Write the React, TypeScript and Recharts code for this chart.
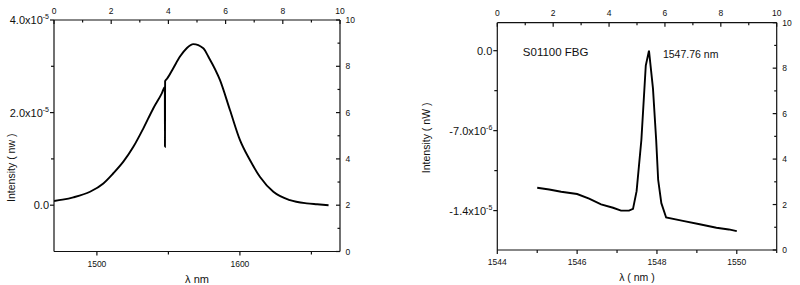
import { LineChart, Line, XAxis, YAxis, ReferenceDot } from 'recharts';

// broadband source spectrum (left panel)
const sourceWavelength = [
  1470, 1476, 1483.5, 1495.2, 1504.5, 1511.5, 1518.5, 1525.5, 1532.5, 1539.4, 1545.3, 1547.5, 1547.6,
  1547.7, 1549, 1553.4, 1558.1, 1562.8, 1567.4, 1574.4, 1577.9, 1586.1, 1593.1, 1600, 1607.1, 1614.1,
  1623.4, 1635, 1646.7, 1654, 1662,
];
const sourceIntensity = [
  0.09e-5, 0.12e-5, 0.17e-5, 0.29e-5, 0.47e-5, 0.69e-5, 0.94e-5, 1.26e-5, 1.66e-5, 2.09e-5, 2.41e-5,
  2.55e-5, 1.26e-5, 2.68e-5, 2.73e-5, 2.96e-5, 3.21e-5, 3.39e-5, 3.48e-5, 3.39e-5, 3.21e-5, 2.7e-5,
  2.05e-5, 1.41e-5, 0.97e-5, 0.61e-5, 0.29e-5, 0.11e-5, 0.04e-5, 0.02e-5, 0,
];

// FBG reflection peak (right panel)
const fbgWavelength = [
  1545.0, 1545.3, 1545.6, 1546.0, 1546.3, 1546.6, 1546.9, 1547.1, 1547.3, 1547.4, 1547.49, 1547.61,
  1547.72, 1547.8, 1547.9, 1547.98, 1548.03, 1548.11, 1548.23, 1548.65, 1549.07, 1549.49, 1549.8,
  1550.0,
];
const fbgIntensity = [
  -12.0e-6, -12.15e-6, -12.35e-6, -12.55e-6, -12.95e-6, -13.45e-6, -13.75e-6, -14.0e-6, -14.0e-6,
  -13.85e-6, -12.3e-6, -7.8e-6, -1.3e-6, 0, -3.3e-6, -7.8e-6, -11.3e-6, -13.35e-6, -14.6e-6,
  -14.9e-6, -15.2e-6, -15.5e-6, -15.65e-6, -15.8e-6,
];

// axis ticks
const sourceXTicks = [1500, 1550, 1600, 1650];
const sourceXLabeled = [1500, 1600];
const sourceYTicks = [0, 1e-5, 2e-5, 3e-5, 4e-5];
const sourceYLabeled = [0, 2e-5, 4e-5];
const fbgXTicks = [1544, 1545, 1546, 1547, 1548, 1549, 1550, 1551];
const fbgXLabeled = [1544, 1546, 1548, 1550];
const fbgYTicks = [-1.4e-5, -1.05e-5, -7e-6, -3.5e-6, 0];
const fbgYLabeled = [-1.4e-5, -7e-6, 0];
const auxTicks = [0, 1, 2, 3, 4, 5, 6, 7, 8, 9, 10];
const auxLabeled = [0, 2, 4, 6, 8, 10];

const sourceData = sourceWavelength.map((wl, i) => ({ wl, v: sourceIntensity[i] }));
const fbgData = fbgWavelength.map((wl, i) => ({ wl, v: fbgIntensity[i] }));

const FONT = '"Liberation Sans", Arial, sans-serif';
const INK = '#111';

const sci = (v: number) => {
  if (Math.abs(v) < 1e-15) return { base: '0.0', exp: '' };
  const e = Math.floor(Math.log10(Math.abs(v)));
  const m = v / Math.pow(10, e);
  return { base: `${m.toFixed(1)}x10`, exp: String(e) };
};

const leftTick = (labeled: number[]) => (p: any) => {
  const { x, y, payload } = p;
  const v = payload.value;
  const major = labeled.includes(v);
  const { base, exp } = sci(v);
  return (
    <g>
      <line x1={x - (major ? 4 : 3)} x2={x} y1={y} y2={y} stroke={INK} strokeWidth={1.2} />
      {major && (
        <text x={x - 5} y={y} dy="0.36em" textAnchor="end" fontSize={11} fill={INK} fontFamily={FONT}>
          {base}
          {exp && (
            <tspan dy={-5} fontSize={7}>
              {exp}
            </tspan>
          )}
        </text>
      )}
    </g>
  );
};

const rightTick = (p: any) => {
  const { x, y, payload } = p;
  const major = auxLabeled.includes(payload.value);
  return (
    <g>
      <line x1={x - (major ? 4 : 2.5)} x2={x} y1={y} y2={y} stroke={INK} strokeWidth={1.2} />
      {major && (
        <text x={x + 5.5} y={y} dy="0.36em" textAnchor="start" fontSize={8.5} fill={INK} fontFamily={FONT}>
          {payload.value}
        </text>
      )}
    </g>
  );
};

const topTick = (p: any) => {
  const { x, y, payload } = p;
  const major = auxLabeled.includes(payload.value);
  return (
    <g>
      <line x1={x} x2={x} y1={y} y2={y + (major ? 4 : 2.5)} stroke={INK} strokeWidth={1.2} />
      {major && (
        <text x={x} y={y - 6.5} textAnchor="middle" fontSize={8.5} fill={INK} fontFamily={FONT}>
          {payload.value}
        </text>
      )}
    </g>
  );
};

const bottomTick = (labeled: number[]) => (p: any) => {
  const { x, y, payload } = p;
  const major = labeled.includes(payload.value);
  return (
    <g>
      <line x1={x} x2={x} y1={y} y2={y + (major ? 4 : 3)} stroke={INK} strokeWidth={1.2} />
      {major && (
        <text x={x} y={y + 15} textAnchor="middle" fontSize={8.5} fill={INK} fontFamily={FONT}>
          {payload.value}
        </text>
      )}
    </g>
  );
};

const yTitle = (text: string, dx: number, dy: number) => (p: any) => {
  const vb = p.viewBox;
  const cx = vb.x + dx;
  const cy = vb.y + vb.height / 2 + dy;
  return (
    <text
      transform={`translate(${cx},${cy}) rotate(-90)`}
      textAnchor="middle"
      fontSize={10.5}
      fill={INK}
      fontFamily={FONT}
    >
      {text}
    </text>
  );
};

const axisLine = { stroke: INK, strokeWidth: 1.2 };

const SourceSpectrum = () => (
  <LineChart width={400} height={285} data={sourceData} margin={{ top: 0, right: 0, bottom: 0, left: 0 }}>
    <XAxis
      xAxisId="bottom"
      dataKey="wl"
      type="number"
      domain={[1470, 1670]}
      allowDataOverflow
      ticks={sourceXTicks}
      interval={0}
      height={33.5}
      tickSize={0}
      tickMargin={0}
      tickLine={false}
      axisLine={axisLine}
      tick={bottomTick(sourceXLabeled)}
      label={{ value: 'λ  nm', position: 'insideBottom', offset: 2.5, fontSize: 11, fill: INK, fontFamily: FONT }}
    />
    <XAxis
      xAxisId="top"
      dataKey="aux"
      orientation="top"
      type="number"
      domain={[0, 10]}
      allowDataOverflow
      ticks={auxTicks}
      interval={0}
      height={20}
      tickSize={0}
      tickMargin={0}
      tickLine={false}
      axisLine={axisLine}
      tick={topTick}
    />
    <YAxis
      yAxisId="left"
      type="number"
      domain={[-1e-5, 4e-5]}
      allowDataOverflow
      ticks={sourceYTicks}
      interval={0}
      width={54}
      tickSize={0}
      tickMargin={0}
      tickLine={false}
      axisLine={axisLine}
      tick={leftTick(sourceYLabeled)}
      label={{ content: yTitle('Intensity ( nw )', 14.5, 32) }}
    />
    <YAxis
      yAxisId="right"
      orientation="right"
      type="number"
      domain={[0, 10]}
      allowDataOverflow
      ticks={auxTicks}
      interval={0}
      width={60}
      tickSize={0}
      tickMargin={0}
      tickLine={false}
      axisLine={axisLine}
      tick={rightTick}
    />
    <Line
      xAxisId="bottom"
      yAxisId="left"
      type="monotone"
      dataKey="v"
      stroke="#000"
      strokeWidth={1.9}
      dot={false}
      isAnimationActive={false}
    />
  </LineChart>
);

const FbgSpectrum = () => (
  <LineChart width={400} height={285} data={fbgData} margin={{ top: 0, right: 0, bottom: 0, left: 0 }}>
    <XAxis
      xAxisId="bottom"
      dataKey="wl"
      type="number"
      domain={[1544, 1551]}
      allowDataOverflow
      ticks={fbgXTicks}
      interval={0}
      height={35}
      tickSize={0}
      tickMargin={0}
      tickLine={false}
      axisLine={axisLine}
      tick={bottomTick(fbgXLabeled)}
      label={{ value: 'λ ( nm )', position: 'insideBottom', offset: 4, fontSize: 10.5, fill: INK, fontFamily: FONT }}
    />
    <XAxis
      xAxisId="top"
      dataKey="aux"
      orientation="top"
      type="number"
      domain={[0, 10]}
      allowDataOverflow
      ticks={auxTicks}
      interval={0}
      height={22.7}
      tickSize={0}
      tickMargin={0}
      tickLine={false}
      axisLine={axisLine}
      tick={topTick}
    />
    <YAxis
      yAxisId="left"
      type="number"
      domain={[-1.745e-5, 2.45e-6]}
      allowDataOverflow
      ticks={fbgYTicks}
      interval={0}
      width={97.3}
      tickSize={0}
      tickMargin={0}
      tickLine={false}
      axisLine={axisLine}
      tick={leftTick(fbgYLabeled)}
      label={{ content: yTitle('Intensity ( nW )', 30, 1.5) }}
    />
    <YAxis
      yAxisId="right"
      orientation="right"
      type="number"
      domain={[0, 10]}
      allowDataOverflow
      ticks={auxTicks}
      interval={0}
      width={23.3}
      tickSize={0}
      tickMargin={0}
      tickLine={false}
      axisLine={axisLine}
      tick={rightTick}
    />
    <Line
      xAxisId="bottom"
      yAxisId="left"
      type="linear"
      dataKey="v"
      stroke="#000"
      strokeWidth={1.9}
      dot={false}
      isAnimationActive={false}
    />
    <ReferenceDot
      xAxisId="bottom"
      yAxisId="left"
      x={1544.64}
      y={-0.1e-6}
      r={0}
      fill="none"
      stroke="none"
      label={{ value: 'S01100 FBG', position: 'right', offset: 0, fontSize: 11.5, fill: INK, fontFamily: FONT }}
    />
    <ReferenceDot
      xAxisId="bottom"
      yAxisId="left"
      x={1548.15}
      y={-0.35e-6}
      r={0}
      fill="none"
      stroke="none"
      label={{ value: '1547.76 nm', position: 'right', offset: 0, fontSize: 10.5, fill: INK, fontFamily: FONT }}
    />
  </LineChart>
);

export default function App() {
  return (
    <div style={{ position: 'absolute', left: 0, top: 0, width: 800, height: 285, background: '#fff', display: 'flex' }}>
      <SourceSpectrum />
      <FbgSpectrum />
    </div>
  );
}
